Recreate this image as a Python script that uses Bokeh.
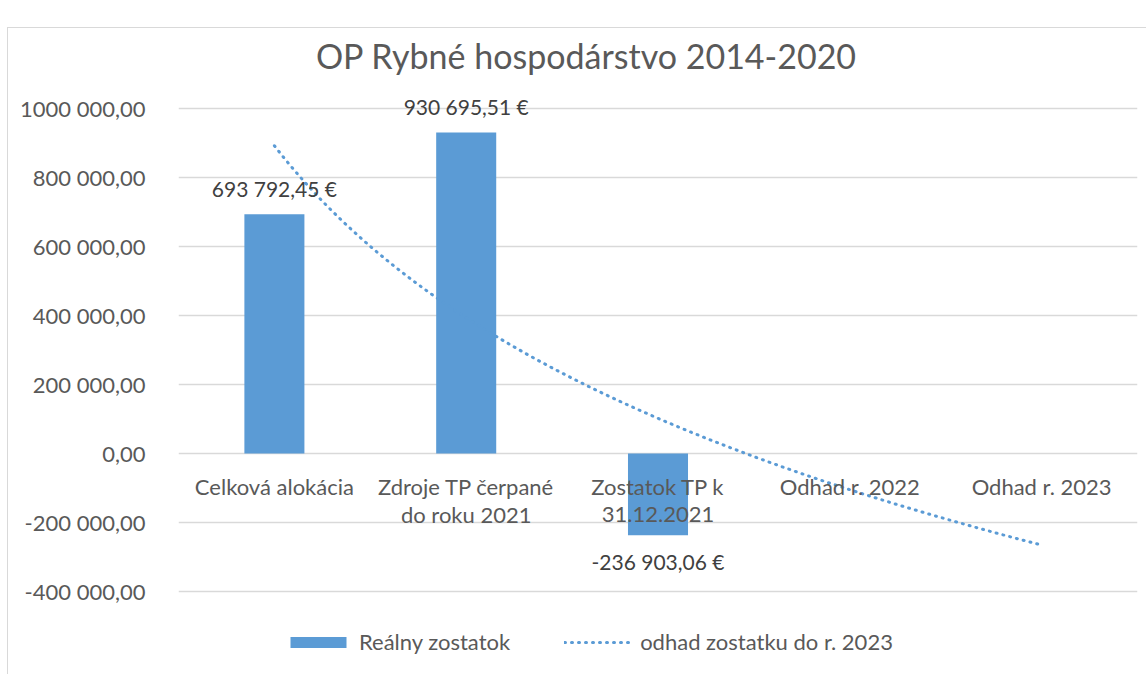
import numpy as np
from bokeh.plotting import figure
from bokeh.models import (FactorRange, Range1d, FixedTicker, ColumnDataSource,
                          Legend, LegendItem)
from bokeh.core.properties import value
from bokeh.embed import file_html
from bokeh.resources import INLINE

# ---- data ----
categories = ["Celková alokácia", "Zdroje TP čerpané do roku 2021", "Zostatok TP k 31.12.2021",
              "Odhad r. 2022", "Odhad r. 2023"]
category_line1 = ["Celková alokácia", "Zdroje TP čerpané", "Zostatok TP k", "Odhad r. 2022", "Odhad r. 2023"]
category_line2 = ["", "do roku 2021", "31.12.2021", "", ""]
bar_categories = categories[:3]
bar_values = [693792.45, 930695.51, -236903.06]
bar_labels = ["693 792,45 €", "930 695,51 €", "-236 903,06 €"]
y_ticks = [-400000, -200000, 0, 200000, 400000, 600000, 800000, 1000000]
y_tick_labels = ["-400 000,00", "-200 000,00", "0,00", "200 000,00", "400 000,00",
                 "600 000,00", "800 000,00", "1000 000,00"]
title_text = "OP Rybné hospodárstvo 2014-2020"
bar_legend = "Reálny zostatok"
trend_legend = "odhad zostatku do r. 2023"

FONT = "Lato"
BLUE = "#5B9BD5"
GRID = "#D9D9D9"
TXT = "#595959"

# logarithmic trendline (Excel-style) fitted on the real values, forecast to the last category
xs = np.arange(1, len(bar_values) + 1)
b, a = np.polyfit(np.log(xs), np.array(bar_values), 1)
tx = np.linspace(1, len(categories), 120)
ty = a + b * np.log(tx)

# the frame spans the whole chart height; the value axis is -400 000 .. 1 000 000 (345 px per 1e6)
p = figure(width=1139, height=647, x_range=FactorRange(*categories, range_padding=0),
           y_range=Range1d(-643478, 1231884), output_backend="svg", toolbar_location=None,
           min_border_left=170, min_border_right=10, min_border_top=0, min_border_bottom=0)
p.margin = (27, 0, 0, 7)
p.styles = {"border-top": "1px solid #D9D9D9", "border-left": "1px solid #D9D9D9"}
p.outline_line_color = None
p.background_fill_color = "white"
p.border_fill_color = "white"

src = ColumnDataSource(dict(x=bar_categories, top=bar_values, label=bar_labels,
                            off=[-26 if v >= 0 else 26 for v in bar_values]))
bars = p.vbar(x="x", top="top", bottom=0, width=0.313, source=src, fill_color=BLUE, line_color=None)
trend = p.line(x=tx - 0.5, y=ty, line_color=BLUE, line_width=3, line_dash="1 6", line_cap="round")

# category labels along the zero line
cat_src = ColumnDataSource(dict(x=categories, y=[0] * len(categories), l1=category_line1, l2=category_line2))
for col, off in (("l1", 33), ("l2", 61)):
    p.text(x="x", y="y", text=col, source=cat_src, y_offset=off, text_align="center",
           text_baseline="middle", text_font=value(FONT), text_font_size="22px", text_color=TXT)

# data labels
p.text(x="x", y="top", text="label", y_offset="off", source=src, text_align="center",
       text_baseline="middle", text_font=value(FONT), text_font_size="21px", text_color="#404040")

# title
p.text(x=[2.127], y=[1153623], text=[title_text], text_align="center", text_baseline="middle",
       text_font=value(FONT), text_font_size="34px", text_color=TXT)

# axes
p.xaxis.visible = False
p.yaxis.ticker = FixedTicker(ticks=y_ticks)
p.yaxis.major_label_overrides = {t: l for t, l in zip(y_ticks, y_tick_labels)}
p.yaxis.axis_line_color = None
p.yaxis.major_tick_line_color = None
p.yaxis.minor_tick_line_color = None
p.yaxis.major_tick_out = 0
p.yaxis.major_label_standoff = 33
p.yaxis.major_label_text_font = FONT
p.yaxis.major_label_text_font_size = "22px"
p.yaxis.major_label_text_color = TXT

p.xgrid.grid_line_color = None
p.ygrid.ticker = FixedTicker(ticks=y_ticks)
p.ygrid.grid_line_color = GRID
p.ygrid.grid_line_width = 1.5

legend = Legend(items=[LegendItem(label=bar_legend, renderers=[bars]),
                       LegendItem(label=trend_legend, renderers=[trend])],
                orientation="horizontal", location=(105, 20), glyph_width=70, glyph_height=14,
                label_standoff=6, spacing=54, padding=0, margin=0, border_line_color=None,
                background_fill_alpha=0, label_text_font=FONT, label_text_font_size="22px",
                label_text_color=TXT)
p.add_layout(legend, "center")

open("out.html", "w").write(file_html(p, INLINE))
